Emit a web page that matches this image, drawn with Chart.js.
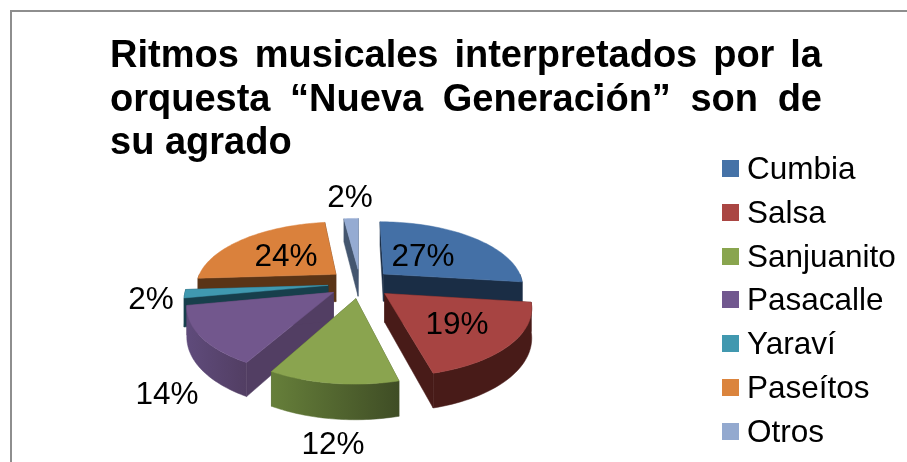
<!DOCTYPE html>
<html><head><meta charset="utf-8">
<style>html,body{margin:0;padding:0;background:#fff}canvas{display:block}</style>
<script src="https://cdn.jsdelivr.net/npm/chart.js@4/dist/chart.umd.min.js"></script>
</head><body><canvas id="c" width="907" height="462"></canvas>
<script>
const categories = ["Cumbia","Salsa","Sanjuanito","Pasacalle","Yaraví","Paseítos","Otros"];
const percentages = [27,19,12,14,2,24,2];
const titleLines = ["Ritmos musicales interpretados por la","orquesta “Nueva Generación” son de","su agrado"];

// styling and layout, separate from the data
const topColors = ["#4470A6","#A74442","#8AA44F","#72578D","#4099B0","#DA813C","#95ABD2"];
const legendColors = ["#4572A7","#AA4643","#89A54E","#71588F","#4198AF","#DB843D","#93A9CF"];
const sideColors = ["#1A2D45","#481B18","#43522A","#523E63","#173F4C","#5A3416","#44566F"];
const rimStart = ["#1A2D45","#481B18","#667F3A","#5F4B7B","#173F4C","#5A3416","#44566F"];
const rimEnd = ["#1A2D45","#481B18","#3F4D25","#523E63","#173F4C","#5A3416","#44566F"];
const paintOrder = [5,0,6,4,3,1,2];
const labelAnchors = [[423,257],[457,325],[333,445],[167,395],[151,300],[286,257],[350,198]];
const SQUASH = 0.46, PERSPECTIVE = 0.175, DEPTH = 28;
const FONT = '"Liberation Sans", Arial, sans-serif';

const pie3d = {
  id:'pie3d',
  beforeDatasetsDraw(chart){
    const ctx = chart.ctx, arcs = chart.getDatasetMeta(0).data;
    paintOrder.forEach(i=>{
      const el = arcs[i], R = el.outerRadius, a0 = el.startAngle, a1 = el.endAngle, mid = (a0+a1)/2;
      const e = el.options.offset/R;
      const P = (a,r,z)=>{
        const u = r*Math.cos(a)+e*Math.cos(mid), v = r*Math.sin(a)+e*Math.sin(mid);
        const s = 1/(1-PERSPECTIVE*v);
        return [el.x+R*u*s, el.y+R*SQUASH*v*s+z*DEPTH*s];
      };
      const poly = (pts,fill)=>{
        ctx.beginPath();
        pts.forEach((p,k)=>k?ctx.lineTo(p[0],p[1]):ctx.moveTo(p[0],p[1]));
        ctx.closePath(); ctx.fillStyle=fill; ctx.fill();
        ctx.strokeStyle=fill; ctx.lineWidth=0.5; ctx.stroke();
      };
      poly([P(a0,0,0),P(a0,1,0),P(a0,1,1),P(a0,0,1)],sideColors[i]);
      poly([P(a1,0,0),P(a1,1,0),P(a1,1,1),P(a1,0,1)],sideColors[i]);
      const b0 = Math.max(a0,0), b1 = Math.min(a1,Math.PI);
      if(b1>b0){
        const top=[],bot=[];
        for(let t=0;t<=40;t++){const a=b0+(b1-b0)*t/40; top.push(P(a,1,0)); bot.unshift(P(a,1,1));}
        const g = ctx.createLinearGradient(top[40][0],0,top[0][0],0);
        g.addColorStop(0,rimStart[i]); g.addColorStop(1,rimEnd[i]);
        poly(top.concat(bot),g);
      }
      const face=[P(a0,0,0)];
      for(let t=0;t<=60;t++) face.push(P(a0+(a1-a0)*t/60,1,0));
      poly(face,topColors[i]);
    });
    return false;
  },
  afterDraw(chart){
    const ctx = chart.ctx;
    ctx.save();
    // frame
    ctx.fillStyle='#8E8E8E';
    ctx.fillRect(10,10,897,2); ctx.fillRect(10,10,2,452);
    ctx.fillStyle='#000'; ctx.textBaseline='alphabetic';
    // title, justified
    ctx.font='bold 38px '+FONT; ctx.textAlign='left';
    const L=110,W=712,base=[67,111,154];
    titleLines.forEach((line,n)=>{
      const words=line.split(' ');
      const sum=words.reduce((t,w)=>t+ctx.measureText(w).width,0);
      const gap=n<2?(W-sum)/(words.length-1):ctx.measureText(' ').width;
      let x=L;
      words.forEach(w=>{ctx.fillText(w,x,base[n]); x+=ctx.measureText(w).width+gap;});
    });
    // percent labels
    ctx.font='31.5px '+FONT; ctx.textAlign='center'; ctx.textBaseline='middle';
    percentages.forEach((v,i)=>ctx.fillText(v+'%',labelAnchors[i][0],labelAnchors[i][1]));
    // legend
    ctx.textAlign='left'; ctx.textBaseline='alphabetic';
    categories.forEach((c,i)=>{
      const y=160+i*43.8;
      ctx.fillStyle=legendColors[i]; ctx.fillRect(722,Math.round(y),17,17);
      ctx.fillStyle='#000'; ctx.fillText(c,747,Math.round(y)+19);
    });
    ctx.restore();
  }
};

new Chart(document.getElementById('c'),{
  type:'pie',
  data:{labels:categories,datasets:[{data:percentages,backgroundColor:topColors,borderWidth:0,offset:32,radius:140}]},
  options:{
    responsive:false,animation:false,devicePixelRatio:1,
    layout:{padding:{left:0,right:187,top:105,bottom:0}},
    plugins:{legend:{display:false},title:{display:false},tooltip:{enabled:false}}
  },
  plugins:[pie3d]
});
</script></body></html>
